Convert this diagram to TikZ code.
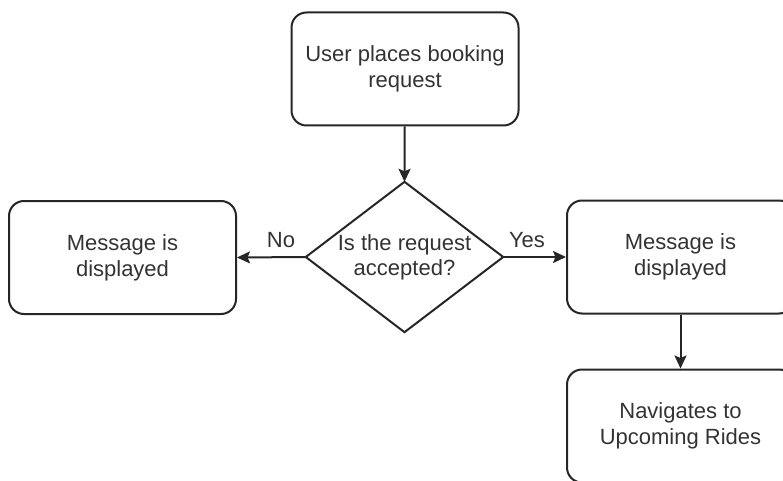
\documentclass[tikz,border=0pt]{standalone}
\usepackage{fontspec}
\setmainfont{Liberation Sans}
\usetikzlibrary{arrows.meta}
\definecolor{txt}{HTML}{333333}
\tikzset{
  box/.style={draw=black!85, line width=2pt, rounded corners=15pt, rectangle,
    minimum width=227pt, minimum height=113pt, align=center, text=txt,
    font=\fontsize{22pt}{26pt}\selectfont, inner sep=0pt},
  decision/.style={rectangle, minimum width=197pt,
    minimum height=150pt, inner sep=0pt, align=center, text=txt,
    font=\fontsize{22pt}{25pt}\selectfont},
  outline/.style={draw=black!85, line width=2pt, line join=miter},
  conn/.style={draw=black!85, line width=2pt, -{Stealth[length=13pt,width=12pt,inset=2.5pt]}},
  lbl/.style={text=txt, font=\fontsize{22pt}{26pt}\selectfont, inner sep=0pt}
}
\begin{document}
\begin{tikzpicture}[x=1pt,y=-1pt]
\useasboundingbox (0,0) rectangle (783,481);
\clip (0,0) rectangle (783,481);
\node[box] (top) at (405,69) {User places booking\\request};
\node[decision] (dec) at (404.5,257) {Is the request\\accepted?};
\draw[outline] (dec.north) -- (dec.east) -- (dec.south) -- (dec.west) -- cycle;
\node[box] (left) at (122.5,257.5) {Message is\\displayed};
\node[box] (right) at (680.5,257) {Message is\\displayed};
\node[box] (bot) at (680.5,426) {Navigates to\\Upcoming Rides};
\draw[conn] (top) -- (dec.north);
\draw[conn] (dec.west) -- (left.east);
\draw[conn] (dec.east) -- (right.west);
\draw[conn] (right) -- (bot);
\node[lbl] (no) at (281,240) {No};
\node[lbl] (yes) at (527,240) {Yes};
\end{tikzpicture}
\end{document}
